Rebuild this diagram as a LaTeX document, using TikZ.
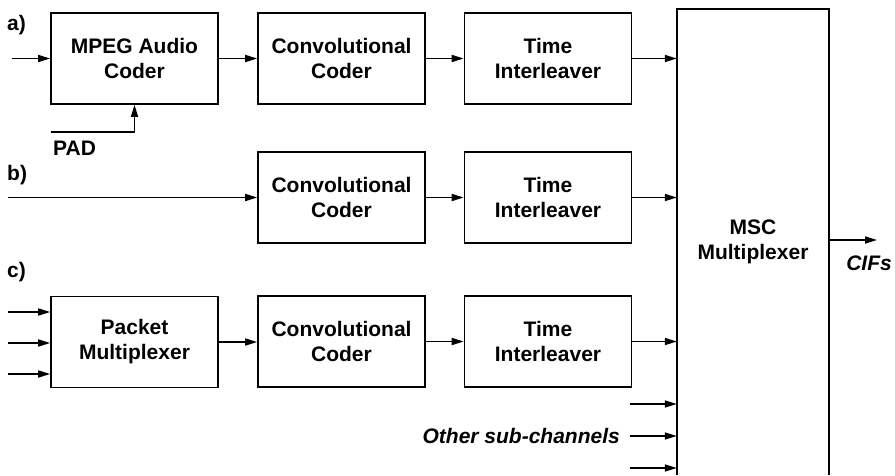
\documentclass[tikz,border=0pt]{standalone}
\usepackage{fontspec}
\setmainfont{Liberation Sans}
\usetikzlibrary{arrows.meta}
\begin{document}
\begin{tikzpicture}[x=1pt,y=-1pt,
  every node/.style={font=\bfseries\fontsize{21}{25}\selectfont, inner sep=0pt},
  blk/.style={draw, line width=1.6pt, minimum width=167pt, minimum height=91pt, align=center},
  conn/.style={line width=1.6pt, -{Triangle[length=12pt,width=7pt]}},
  lbl/.style={anchor=west}]
\useasboundingbox (0,0) rectangle (895,475);
% row a
\node[blk] (mpeg) at (134.5,58.5) {MPEG Audio\\Coder};
\node[blk] (conva) at (341.5,58.5) {Convolutional\\Coder};
\node[blk] (tia) at (548,58.5) {Time\\Interleaver};
% MSC
\node[minimum width=152pt, minimum height=466pt, align=center] (msc) at (753,242) {MSC\\Multiplexer};
\draw[line width=1.6pt] (msc.south west) -- (msc.north west) -- (msc.north east) -- (msc.south east);
% row b
\node[blk] (convb) at (341.5,197.5) {Convolutional\\Coder};
\node[blk] (tib) at (548,197.5) {Time\\Interleaver};
% row c
\node[blk] (pm) at (134.5,342) {Packet\\Multiplexer};
\node[blk] (convc) at (341.5,341.5) {Convolutional\\Coder};
\node[blk] (tic) at (548,341.5) {Time\\Interleaver};
% labels
\node[lbl] (la) at (7,25) {a)};
\node[lbl] (lb) at (7,175) {b)};
\node[lbl] (lc) at (7,272) {c)};
\node[lbl] (pad) at (53,148) {PAD};
\node[anchor=east, font=\bfseries\itshape\fontsize{21}{25}\selectfont] (other) at (620,436) {Other sub-channels};
\node[font=\bfseries\itshape\fontsize{21}{25}\selectfont] (cifs) at (869,263) {CIFs};
% free ends
\coordinate (ina) at (12,58.5);
\coordinate (inb) at (8,197.5);
\coordinate (padstart) at (51,132);
\coordinate (pm1) at (8,312);
\coordinate (pm2) at (8,343);
\coordinate (pm3) at (8,374);
\coordinate (o1) at (630,404);
\coordinate (o2) at (630,436);
\coordinate (o3) at (630,468);
\coordinate (out) at (877,240);
% connectors row a
\draw[conn] (ina) -- (mpeg.west);
\draw[conn] (mpeg) -- (conva);
\draw[conn] (conva) -- (tia);
\draw[conn] (tia.east) -- (tia.east -| msc.west);
\draw[conn] (padstart) -| (mpeg.south);
% row b
\draw[conn] (inb) -- (convb.west);
\draw[conn] (convb) -- (tib);
\draw[conn] (tib.east) -- (tib.east -| msc.west);
% row c
\draw[conn] (pm1) -- (pm1 -| pm.west);
\draw[conn] (pm2) -- (pm2 -| pm.west);
\draw[conn] (pm3) -- (pm3 -| pm.west);
\draw[conn] (pm.east) -- (pm.east -| convc.west);
\draw[conn] (convc) -- (tic);
\draw[conn] (tic.east) -- (tic.east -| msc.west);
% other
\draw[conn] (o1) -- (o1 -| msc.west);
\draw[conn] (o2) -- (o2 -| msc.west);
\draw[conn] (o3) -- (o3 -| msc.west);
% output
\draw[conn] (msc.east |- out) -- (out);
\end{tikzpicture}
\end{document}
